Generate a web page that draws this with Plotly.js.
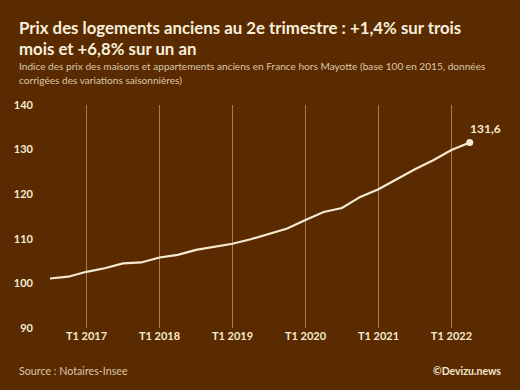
<!DOCTYPE html>
<html>
<head>
<meta charset="utf-8">
<script src="https://cdn.plot.ly/plotly-3.0.1.min.js"></script>
<style>html,body{margin:0;padding:0;background:#5a2b01;}#chart{width:520px;height:390px;}</style>
</head>
<body>
<div id="chart"></div>
<script>
// Quarters from T3 2016 to T2 2022
const quarters = ["T3 2016","T4 2016","T1 2017","T2 2017","T3 2017","T4 2017","T1 2018","T2 2018","T3 2018","T4 2018","T1 2019","T2 2019","T3 2019","T4 2019","T1 2020","T2 2020","T3 2020","T4 2020","T1 2021","T2 2021","T3 2021","T4 2021","T1 2022","T2 2022"];
const indexValues = [101.1,101.5,102.6,103.4,104.5,104.7,105.8,106.4,107.5,108.2,108.9,109.9,111.1,112.3,114.2,116.0,116.9,119.4,121.1,123.3,125.6,127.6,129.9,131.6];
const tickLabels = ["T1 2017","T1 2018","T1 2019","T1 2020","T1 2021","T1 2022"];
const yTicks = [90,100,110,120,130,140];

const xIdx = quarters.map((q,i)=>i);
const tickPos = tickLabels.map(t => quarters.indexOf(t));
const lastI = quarters.length - 1;

const FONT = "Lato, 'Open Sans', sans-serif";
const cream = "#f6ead0";

const traces = [
  {x: xIdx, y: indexValues, type: "scatter", mode: "lines",
   line: {color: cream, width: 2.2}, hoverinfo: "skip"},
  {x: [xIdx[lastI]], y: [indexValues[lastI]], type: "scatter", mode: "markers",
   marker: {color: cream, size: 7}, hoverinfo: "skip"}
];

// pixel helpers for paper coords
const L = 40, W = 460, B = 328, H = 223;
const px = p => (p - L) / W;
const py = p => (B - p) / H;

const layout = {
  width: 520, height: 390,
  paper_bgcolor: "#5a2b01", plot_bgcolor: "#5a2b01",
  margin: {l: L, r: 520 - L - W, t: B - H, b: 390 - B, pad: 0},
  showlegend: false,
  font: {family: FONT, color: cream},
  xaxis: {
    range: [-0.548, 24.66], tickvals: tickPos, ticktext: tickLabels,
    showgrid: true, gridcolor: "rgba(215,180,140,0.6)", gridwidth: 1,
    zeroline: false, showline: false, ticks: "",
    tickfont: {family: FONT, size: 11, color: cream, weight: "bold"},
    fixedrange: true
  },
  yaxis: {
    range: [90, 140], tickvals: yTicks,
    showgrid: false, zeroline: false, showline: false, ticks: "",
    ticklabelstandoff: 6,
    tickfont: {family: FONT, size: 11, color: cream, weight: "bold"},
    fixedrange: true
  },
  annotations: [
    {text: "<b>Prix des logements anciens au 2e trimestre : +1,4% sur trois</b>", xref: "paper", yref: "paper",
     x: px(17), y: py(27.5), xanchor: "left", yanchor: "middle", showarrow: false,
     font: {family: FONT, size: 16.8, color: "#f8efdc"}},
    {text: "<b>mois et +6,8% sur un an</b>", xref: "paper", yref: "paper",
     x: px(17), y: py(49), xanchor: "left", yanchor: "middle", showarrow: false,
     font: {family: FONT, size: 16.8, color: "#f8efdc"}},
    {text: "Indice des prix des maisons et appartements anciens en France hors Mayotte (base 100 en 2015, données", xref: "paper", yref: "paper",
     x: px(17), y: py(65.5), xanchor: "left", yanchor: "middle", showarrow: false,
     font: {family: FONT, size: 10.1, color: "#dcc6a8"}},
    {text: "corrigées des variations saisonnières)", xref: "paper", yref: "paper",
     x: px(17), y: py(80), xanchor: "left", yanchor: "middle", showarrow: false,
     font: {family: FONT, size: 10.1, color: "#dcc6a8"}},
    {text: "Source : Notaires-Insee", xref: "paper", yref: "paper",
     x: px(17), y: py(370.5), xanchor: "left", yanchor: "middle", showarrow: false,
     font: {family: FONT, size: 10.7, color: "#dcc6a8"}},
    {text: "<b>©Devizu.news</b>", xref: "paper", yref: "paper",
     x: px(503), y: py(370.5), xanchor: "right", yanchor: "middle", showarrow: false,
     font: {family: FONT, size: 10.5, color: "#f3e6cc"}},
    {text: "<b>131,6</b>", xref: "x", yref: "y",
     x: xIdx[lastI], y: indexValues[lastI], xanchor: "center", yanchor: "middle",
     xshift: 16, yshift: 14, showarrow: false,
     font: {family: FONT, size: 12, color: cream}}
  ]
};

Plotly.newPlot("chart", traces, layout, {staticPlot: true, displayModeBar: false});
</script>
</body>
</html>
